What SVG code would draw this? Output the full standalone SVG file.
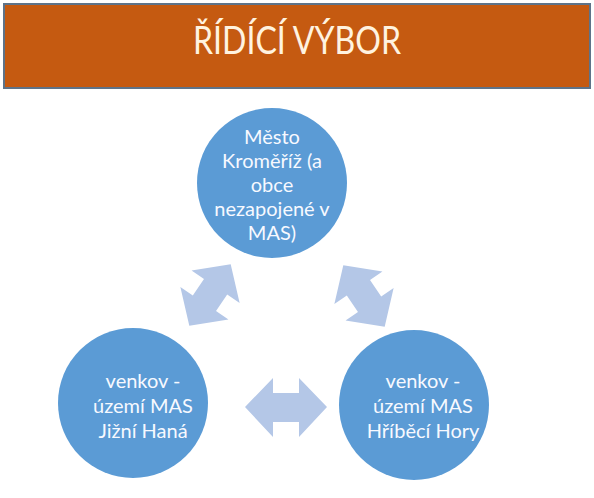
<svg xmlns="http://www.w3.org/2000/svg" width="594" height="498" viewBox="0 0 594 498">
<style>
.circ{fill:#5B9BD5}
.arr{fill:#B4C7E7}
.t{font-family:Lato,"Open Sans","Liberation Sans",sans-serif;font-size:20px;fill:#F7F9FF;text-anchor:middle}
.title{font-family:Lato,"Open Sans","Liberation Sans",sans-serif;font-size:38px;fill:#FFF3E0;text-anchor:middle}
</style>
<defs>
<polygon id="dbl" points="-37,0 -10,-29 -10,-14 10,-14 10,-29 37,0 10,29 10,14 -10,14 -10,29"/>
</defs>
<rect width="594" height="498" fill="#FFFFFF"/>
<g id="header">
<rect x="4" y="4" width="586" height="84" fill="#C55A11" stroke="#5E7389" stroke-width="2"/>
<text class="title" x="297" y="54" textLength="208" lengthAdjust="spacingAndGlyphs">ŘÍDÍCÍ VÝBOR</text>
</g>
<g id="connectors">
<polygon class="arr" points="245,407 273,378 273,393 299,393 299,378 327,407 299,437 299,422 273,422 273,437"/>
<use href="#dbl" class="arr" transform="translate(210,295) rotate(-56)"/>
<use href="#dbl" class="arr" transform="translate(364,296) rotate(56)"/>
</g>
<g id="node-top">
<circle class="circ" cx="272" cy="183" r="75"/>
<text class="t" x="272" y="144">Město</text>
<text class="t" x="272" y="168">Kroměříž (a</text>
<text class="t" x="272" y="192">obce</text>
<text class="t" x="272" y="216">nezapojené v</text>
<text class="t" x="272" y="240">MAS)</text>
</g>
<g id="node-left">
<circle class="circ" cx="133" cy="403" r="75"/>
<text class="t" x="143" y="388">venkov -</text>
<text class="t" x="143" y="413">území MAS</text>
<text class="t" x="143" y="438">Jižní Haná</text>
</g>
<g id="node-right">
<circle class="circ" cx="414" cy="405" r="75"/>
<text class="t" x="423" y="388">venkov -</text>
<text class="t" x="423" y="413">území MAS</text>
<text class="t" x="423" y="438">Hříběcí Hory</text>
</g>
</svg>
